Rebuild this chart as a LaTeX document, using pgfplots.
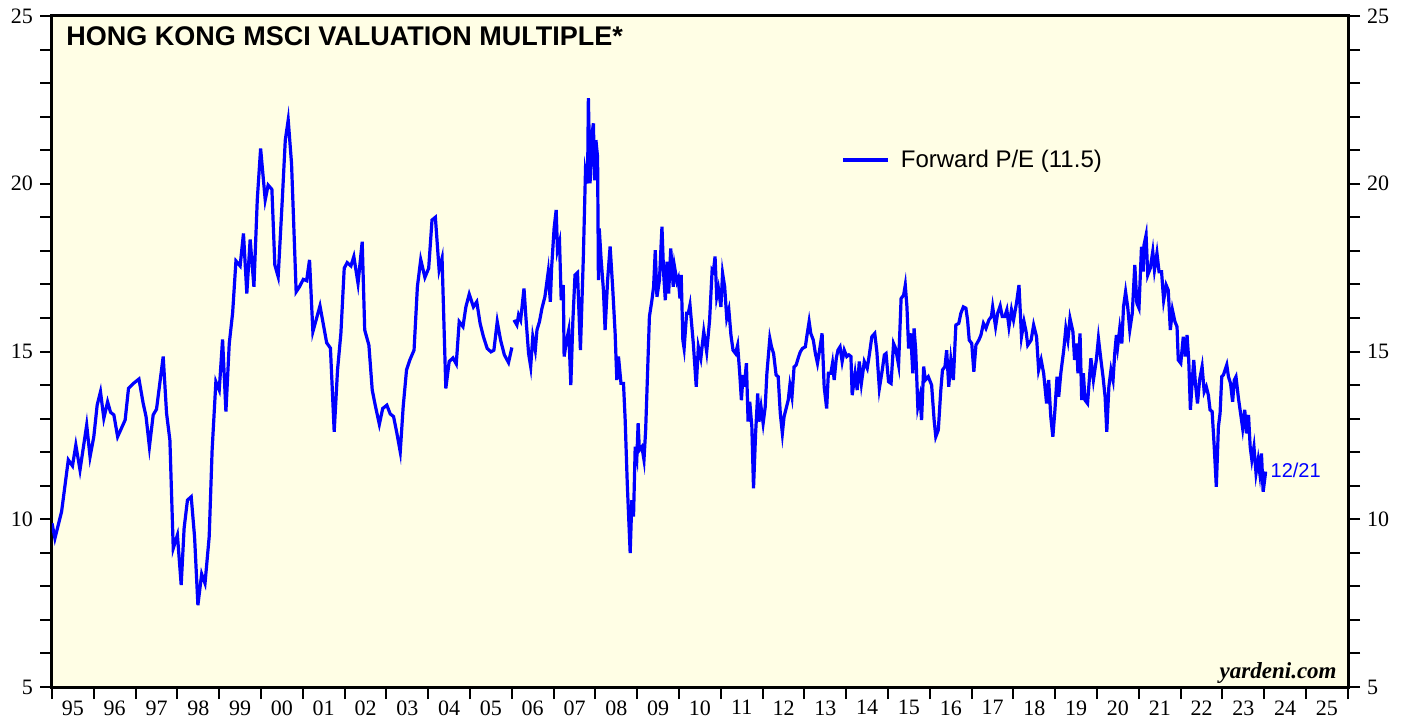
\documentclass[border=0pt]{standalone}
\usepackage{fontspec}
\setmainfont{Liberation Serif}
\newfontfamily\arial{Liberation Sans}
\usepackage{pgfplots}
\usepackage{pgfplotstable}
\pgfplotsset{compat=1.18}

\definecolor{bgyellow}{RGB}{255,254,229}
\definecolor{peblue}{RGB}{0,0,255}

% forward P/E, monthly part (1995 - end 2005)
\pgfplotstableread{
year pe
1995.00 9.88
1995.07 9.43
1995.23 10.23
1995.39 11.77
1995.49 11.59
1995.57 12.21
1995.67 11.47
1995.83 12.81
1995.91 11.86
1996.00 12.46
1996.08 13.40
1996.16 13.80
1996.24 13.01
1996.33 13.50
1996.40 13.19
1996.48 13.11
1996.57 12.46
1996.75 12.96
1996.83 13.90
1996.95 14.05
1997.08 14.18
1997.18 13.46
1997.25 13.06
1997.33 12.16
1997.42 13.11
1997.50 13.28
1997.66 14.85
1997.74 13.16
1997.82 12.36
1997.90 9.13
1998.00 9.53
1998.09 8.04
1998.16 9.73
1998.24 10.57
1998.33 10.67
1998.41 9.48
1998.49 7.44
1998.58 8.37
1998.66 8.09
1998.76 9.48
1998.83 12.06
1998.92 14.10
1999.00 13.85
1999.08 15.36
1999.16 13.21
1999.24 15.24
1999.32 16.14
1999.40 17.70
1999.50 17.55
1999.58 18.52
1999.66 16.73
1999.74 18.34
1999.83 16.93
1999.91 19.52
1999.99 21.05
2000.10 19.52
2000.17 19.96
2000.26 19.83
2000.33 17.58
2000.41 17.23
2000.51 19.56
2000.58 21.30
2000.65 21.90
2000.73 20.60
2000.84 16.78
2000.92 16.93
2001.01 17.15
2001.09 17.11
2001.16 17.73
2001.24 15.59
2001.41 16.36
2001.57 15.26
2001.66 15.10
2001.75 12.61
2001.83 14.45
2001.91 15.54
2001.99 17.48
2002.06 17.65
2002.15 17.55
2002.22 17.83
2002.32 17.03
2002.42 18.27
2002.48 15.64
2002.58 15.19
2002.66 13.85
2002.74 13.35
2002.83 12.83
2002.91 13.30
2003.01 13.40
2003.09 13.14
2003.17 13.06
2003.25 12.56
2003.33 12.01
2003.40 13.35
2003.48 14.45
2003.56 14.75
2003.66 15.04
2003.74 16.93
2003.82 17.74
2003.92 17.21
2004.01 17.48
2004.09 18.92
2004.17 19.00
2004.26 17.43
2004.33 17.78
2004.42 13.90
2004.50 14.70
2004.59 14.81
2004.67 14.63
2004.74 15.89
2004.83 15.74
2004.90 16.33
2004.98 16.71
2005.08 16.33
2005.16 16.48
2005.24 15.84
2005.32 15.44
2005.41 15.09
2005.50 14.99
2005.57 15.04
2005.65 15.89
2005.73 15.34
2005.82 14.90
2005.92 14.67
2006.00 15.12
}\peA

% forward P/E, weekly part (2006 - Dec 2023)
\pgfplotstableread{
year pe
2006.05 15.94
2006.12 15.79
2006.16 16.09
2006.21 15.94
2006.24 16.29
2006.29 16.88
2006.34 15.94
2006.40 14.94
2006.45 14.55
2006.50 15.44
2006.56 15.04
2006.60 15.64
2006.66 15.89
2006.72 16.29
2006.79 16.63
2006.87 17.38
2006.92 16.48
2006.95 17.48
2007.01 18.67
2007.06 19.22
2007.09 18.02
2007.14 18.27
2007.18 16.53
2007.23 16.98
2007.25 14.85
2007.31 15.34
2007.36 15.64
2007.41 14.00
2007.46 15.94
2007.51 17.28
2007.57 17.35
2007.60 16.33
2007.64 15.04
2007.71 17.83
2007.76 20.36
2007.81 20.01
2007.83 22.55
2007.87 20.01
2007.92 21.50
2007.95 21.80
2007.98 20.10
2008.01 21.30
2008.05 20.80
2008.07 17.13
2008.09 18.67
2008.13 17.83
2008.19 16.83
2008.23 15.64
2008.29 17.13
2008.35 18.13
2008.41 16.93
2008.47 15.54
2008.51 14.15
2008.55 14.85
2008.61 14.05
2008.67 14.05
2008.71 12.96
2008.76 11.07
2008.83 8.99
2008.87 10.57
2008.91 10.08
2008.95 12.16
2008.99 11.86
2009.02 12.86
2009.05 12.06
2009.11 12.16
2009.16 11.77
2009.20 12.66
2009.24 14.15
2009.29 16.04
2009.35 16.53
2009.39 16.93
2009.43 18.02
2009.47 16.63
2009.53 17.13
2009.59 18.72
2009.63 17.33
2009.67 16.53
2009.71 17.68
2009.75 16.73
2009.80 18.07
2009.86 16.93
2009.89 17.53
2009.95 17.08
2009.98 17.18
2010.02 16.58
2010.05 17.28
2010.09 15.34
2010.12 15.09
2010.18 16.14
2010.22 16.14
2010.26 16.39
2010.34 15.24
2010.41 13.95
2010.46 15.14
2010.52 14.80
2010.59 15.59
2010.66 14.99
2010.73 15.94
2010.79 17.43
2010.82 17.38
2010.86 17.83
2010.90 16.63
2010.94 16.88
2011.00 16.33
2011.04 17.33
2011.09 16.93
2011.14 15.99
2011.19 16.24
2011.24 15.49
2011.29 15.04
2011.35 14.94
2011.40 15.19
2011.45 14.35
2011.49 13.55
2011.53 14.30
2011.56 13.95
2011.61 14.65
2011.65 12.91
2011.69 13.50
2011.74 12.76
2011.78 10.92
2011.83 12.56
2011.88 13.75
2011.91 12.91
2011.96 13.35
2012.01 12.86
2012.06 13.35
2012.10 14.35
2012.17 15.39
2012.21 15.14
2012.26 14.94
2012.32 14.30
2012.37 14.25
2012.42 13.16
2012.47 12.56
2012.51 13.05
2012.56 13.30
2012.61 13.55
2012.65 14.00
2012.70 13.65
2012.75 14.54
2012.80 14.60
2012.86 14.85
2012.90 14.99
2012.95 15.09
2013.02 15.14
2013.06 15.49
2013.11 15.89
2013.15 15.54
2013.21 15.34
2013.26 14.94
2013.31 14.65
2013.36 15.04
2013.42 15.54
2013.47 13.95
2013.53 13.30
2013.57 14.35
2013.63 14.35
2013.67 14.65
2013.71 14.15
2013.76 14.80
2013.80 15.04
2013.85 15.14
2013.90 14.70
2013.95 15.04
2014.01 14.85
2014.06 14.90
2014.11 14.85
2014.14 13.70
2014.21 14.35
2014.26 13.85
2014.31 14.70
2014.36 14.05
2014.43 14.70
2014.50 14.50
2014.55 14.90
2014.61 15.44
2014.68 15.54
2014.73 15.00
2014.79 13.90
2014.86 14.45
2014.91 14.90
2014.95 14.94
2015.01 14.10
2015.07 14.05
2015.13 15.24
2015.18 15.09
2015.25 14.60
2015.31 16.58
2015.37 16.68
2015.41 16.98
2015.45 16.33
2015.49 15.09
2015.54 15.54
2015.59 14.35
2015.62 15.69
2015.66 15.04
2015.71 13.35
2015.76 13.65
2015.80 12.96
2015.85 14.55
2015.89 14.15
2015.96 14.25
2016.04 14.00
2016.10 12.96
2016.14 12.46
2016.20 12.66
2016.26 13.85
2016.30 14.45
2016.36 14.55
2016.40 15.04
2016.45 13.95
2016.50 14.75
2016.56 14.15
2016.62 15.79
2016.69 15.84
2016.74 16.14
2016.80 16.33
2016.86 16.29
2016.90 15.94
2016.94 15.34
2017.00 15.24
2017.05 14.40
2017.10 15.19
2017.17 15.34
2017.22 15.49
2017.28 15.84
2017.34 15.69
2017.41 15.94
2017.47 16.04
2017.50 16.33
2017.57 15.74
2017.62 16.14
2017.68 16.36
2017.73 16.04
2017.79 16.04
2017.84 16.24
2017.89 15.74
2017.95 16.24
2018.00 15.94
2018.07 16.44
2018.13 16.98
2018.19 15.44
2018.25 15.89
2018.30 15.59
2018.34 15.19
2018.42 15.34
2018.48 15.79
2018.55 15.44
2018.60 14.45
2018.66 14.75
2018.72 14.35
2018.79 13.45
2018.84 14.15
2018.89 13.06
2018.94 12.46
2018.99 13.26
2019.04 14.25
2019.08 13.65
2019.13 14.35
2019.20 15.04
2019.25 15.69
2019.30 15.34
2019.35 15.99
2019.42 15.59
2019.46 14.75
2019.51 15.24
2019.54 14.35
2019.59 15.54
2019.63 13.55
2019.67 14.35
2019.71 13.55
2019.77 13.45
2019.85 14.80
2019.91 14.15
2019.98 14.75
2020.03 15.39
2020.09 14.75
2020.14 14.25
2020.19 13.65
2020.23 12.61
2020.28 13.95
2020.33 14.45
2020.38 14.15
2020.42 14.94
2020.46 15.49
2020.49 15.14
2020.54 15.69
2020.59 15.24
2020.63 16.33
2020.68 16.78
2020.73 16.33
2020.78 15.64
2020.84 16.14
2020.90 17.58
2020.95 16.44
2021.00 16.29
2021.06 18.12
2021.10 17.38
2021.12 18.17
2021.17 18.47
2021.21 17.28
2021.27 17.48
2021.33 17.98
2021.37 17.43
2021.43 17.93
2021.48 17.38
2021.54 17.38
2021.59 16.53
2021.65 16.98
2021.70 16.83
2021.75 15.64
2021.80 16.24
2021.86 15.89
2021.91 15.74
2021.94 14.75
2022.00 14.65
2022.06 15.44
2022.11 14.85
2022.15 15.49
2022.19 14.75
2022.23 13.26
2022.27 14.05
2022.31 14.75
2022.35 14.05
2022.40 13.45
2022.45 14.15
2022.51 14.55
2022.56 13.80
2022.61 13.95
2022.66 13.70
2022.70 13.26
2022.75 13.21
2022.80 12.16
2022.85 10.97
2022.90 12.76
2022.94 13.16
2022.98 14.25
2023.02 14.30
2023.06 14.45
2023.10 14.60
2023.14 14.25
2023.19 14.05
2023.24 13.50
2023.28 14.15
2023.32 14.25
2023.38 13.60
2023.43 13.16
2023.48 12.71
2023.53 13.26
2023.57 12.56
2023.62 13.11
2023.66 12.16
2023.70 11.77
2023.75 12.16
2023.80 11.37
2023.85 11.77
2023.89 11.37
2023.93 11.96
2023.97 10.82
2024.03 11.42
}\peB

\begin{document}
\begin{tikzpicture}
\begin{axis}[
  name=ax,
  scale only axis,
  width=648bp, height=335.5bp,
  xmin=1995, xmax=2026, ymin=5, ymax=25,
  axis background/.style={fill=bgyellow},
  axis line style={line width=1.5bp},
  xtick={1995,...,2026},
  xticklabels={95,96,97,98,99,00,01,02,03,04,05,06,07,08,09,10,11,12,13,14,15,16,17,18,19,20,21,22,23,24,25},
  x tick label as interval,
  xtick pos=bottom,
  xticklabel style={yshift=2.8bp},
  ytick={5,10,15,20,25},
  minor y tick num=4,
  ytick pos=left,
  tick align=outside,
  major tick length=6bp, minor tick length=6bp,
  tick style={black, line width=1bp},
  tick label style={font=\fontsize{11bp}{13bp}\selectfont},
  /pgf/number format/assume math mode=true,
  legend style={at={(axis cs:2013.88,20.71)}, anchor=west, draw=none, fill=none,
    font=\arial\fontsize{12bp}{14bp}\selectfont, inner sep=0pt},
  legend cell align=left,
  legend image code/.code={\draw[#1] (0bp,0bp) -- (22.5bp,0bp);},
]
\addplot[peblue, line width=1.6bp] table[x=year, y=pe]{\peA};
\addlegendentry{\hspace{3.5bp}Forward P/E (11.5)}
\addplot[peblue, line width=1.6bp, forget plot] table[x=year, y=pe]{\peB};

\node[anchor=west, inner sep=0pt, font=\arial\bfseries\fontsize{13.5bp}{16bp}\selectfont]
  at (rel axis cs:0.0108,0.970) {HONG KONG MSCI VALUATION MULTIPLE*};
\node[anchor=east, inner sep=0pt, font=\bfseries\itshape\fontsize{11.5bp}{13bp}\selectfont]
  at (rel axis cs:0.9915,0.0209) {yardeni.com};
\node[anchor=west, inner sep=0pt, text=peblue, font=\arial\fontsize{10bp}{12bp}\selectfont]
  at (axis cs:2024.14,11.47) {12/21};
\end{axis}

% right-hand scale
\begin{axis}[
  scale only axis,
  width=648bp, height=335.5bp,
  xmin=1995, xmax=2026, ymin=5, ymax=25,
  axis x line=none,
  axis y line*=right,
  axis line style={line width=1.5bp, -},
  ytick={5,10,15,20,25},
  minor y tick num=4,
  tick align=outside,
  major tick length=6bp, minor tick length=6bp,
  tick style={black, line width=1bp},
  tick label style={font=\fontsize{11bp}{13bp}\selectfont},
  /pgf/number format/assume math mode=true,
]
\end{axis}

\pgfresetboundingbox
\path[use as bounding box] ([xshift=-26bp,yshift=-16bp]ax.south west)
  rectangle ([xshift=29.5bp,yshift=8bp]ax.north east);
\end{tikzpicture}
\end{document}
